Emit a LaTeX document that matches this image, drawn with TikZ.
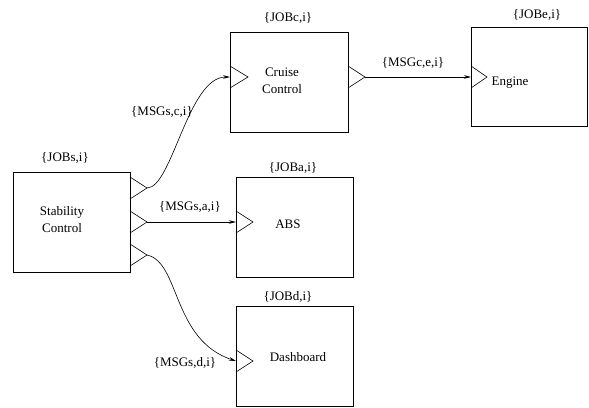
\documentclass[tikz,border=0pt]{standalone}
\usepackage{fontspec}
\setmainfont{Liberation Serif}
\usetikzlibrary{arrows.meta}
\begin{document}
\begin{tikzpicture}[x=1pt,y=-1pt,
  box/.style={draw,line width=0.7pt,inner sep=0pt},
  port/.style={draw,line width=0.6pt,line join=miter},
  lbl/.style={font=\fontsize{13}{17}\selectfont,inner sep=0pt,align=center},
  conn/.style={line width=0.6pt,-{Stealth[length=7pt,width=3.5pt]}}]
\useasboundingbox (0,0) rectangle (589,407);
% boxes
\node[box,minimum width=117pt,minimum height=100pt] (sc) at (71.5,222) {};
\node[box,minimum width=118pt,minimum height=100pt] (cc) at (289,82) {};
\node[box,minimum width=116pt,minimum height=99pt] (en) at (529,76.5) {};
\node[box,minimum width=117pt,minimum height=100pt] (ab) at (294.5,227) {};
\node[box,minimum width=117pt,minimum height=100pt] (db) at (294.5,356) {};
% texts in boxes
\node[lbl] (sct) at (62,220) {Stability\\Control};
\node[lbl] (cct) at (282,81) {Cruise\\Control};
\node[lbl] (ent) at (510,83) {Engine};
\node[lbl] (abt) at (288,224) {ABS};
\node[lbl] (dbt) at (298,357) {Dashboard};
% job labels
\node[lbl] (js) at (65,158) {\{JOBs,i\}};
\node[lbl] (jc) at (288,18) {\{JOBc,i\}};
\node[lbl] (je) at (537,15) {\{JOBe,i\}};
\node[lbl] (ja) at (293,168) {\{JOBa,i\}};
\node[lbl] (jd) at (288,297) {\{JOBd,i\}};
% ports: base mid and apex coordinates
\coordinate (s1b) at (130,188); \coordinate (s1a) at (147,188);
\coordinate (s2b) at (130,222); \coordinate (s2a) at (147,222);
\coordinate (s3b) at (130,255); \coordinate (s3a) at (147,255);
\coordinate (ccib) at (230,77); \coordinate (ccia) at (248,77);
\coordinate (ccob) at (348,77); \coordinate (ccoa) at (365,77);
\coordinate (enib) at (471,77); \coordinate (enia) at (487,77);
\coordinate (abib) at (236,222); \coordinate (abia) at (253,222);
\coordinate (dbib) at (236,361); \coordinate (dbia) at (253,361);
\foreach \p in {s1,s2,s3,cci,cco,eni,abi,dbi}{
  \draw[port] ([yshift=-11pt]\p b) -- (\p a) -- ([yshift=11pt]\p b);
}
% connectors
\draw[conn] (s1a) .. controls (172,188) and (188,77) .. (ccib);
\draw[conn] (s2a) -- (abib);
\draw[conn] (s3a) .. controls (180,262) and (172,340) .. (dbib);
\draw[conn] (ccoa) -- (enib);
% message labels
\node[lbl] (mc) at (162,112) {\{MSGs,c,i\}};
\node[lbl] (me) at (413,63) {\{MSGc,e,i\}};
\node[lbl] (ma) at (190,207) {\{MSGs,a,i\}};
\node[lbl] (md) at (185,363) {\{MSGs,d,i\}};
\end{tikzpicture}
\end{document}
